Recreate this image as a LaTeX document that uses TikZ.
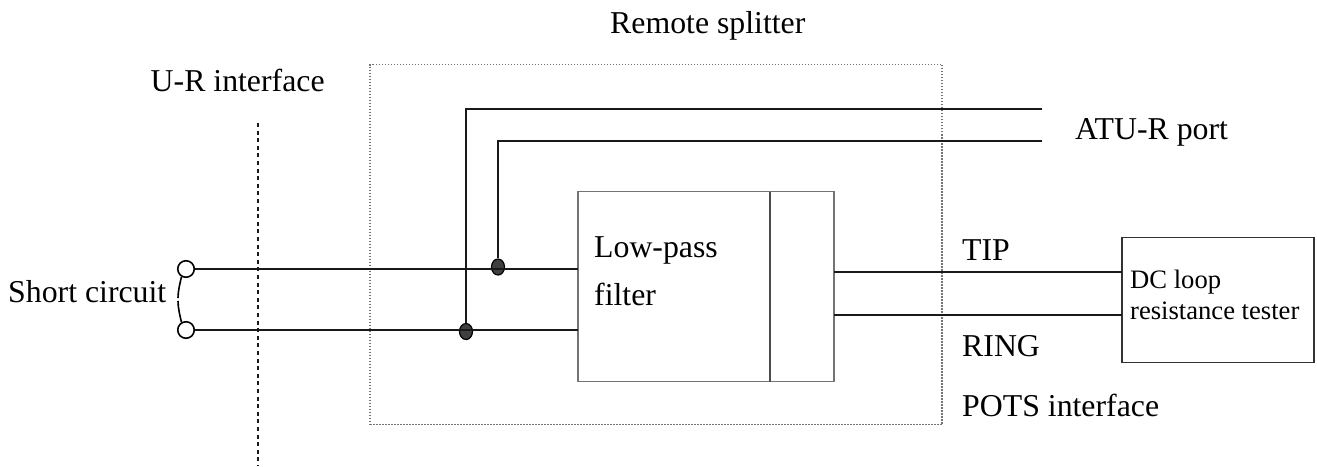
\documentclass[tikz,border=0pt]{standalone}
\usepackage{fontspec}
\usetikzlibrary{shapes.geometric}
\setmainfont{Liberation Serif}
\begin{document}
\begin{tikzpicture}[x=1pt,y=-1pt,
  wire/.style={draw=black!90,line width=1.9pt},
  thin box/.style={draw=black!55,line width=1.6pt},
  term/.style={circle,draw=black,line width=1.6pt,fill=white,minimum size=16.5pt,inner sep=0pt},
  junction/.style={ellipse,draw=black,line width=1.2pt,fill=black!75,minimum width=13pt,minimum height=16pt,inner sep=0pt},
  lab/.style={font=\fontsize{31.8}{36}\selectfont,inner sep=0pt,anchor=base west},
  smalllab/.style={font=\fontsize{26.6}{31}\selectfont,inner sep=0pt,anchor=base west}]
\useasboundingbox (0,0) rectangle (1317,466);
\fill[white] (0,0) rectangle (1317,466);
\node[lab] (title) at (610,33) {Remote splitter};
\node[lab] (ur) at (150.5,91) {U-R interface};
\node[lab] (atu) at (1075,139) {ATU-R port};
\node[lab] (sc) at (8,302) {Short circuit};
\node[lab] (lpf1) at (594,257) {Low-pass};
\node[lab] (lpf2) at (594,305) {filter};
\node[lab] (tip) at (962,260) {TIP};
\node[lab] (ring) at (962,356) {RING};
\node[lab] (pots) at (962,416) {POTS interface};
\coordinate (ua) at (258,123);
\coordinate (ub) at (258,466);
\draw[black!90,line width=1.6pt,dash pattern=on 4pt off 3.6pt] (ua) -- (ub);
\node[draw=black!55,line width=1.2pt,dash pattern=on 1.5pt off 1.5pt,minimum width=572pt,minimum height=360pt,inner sep=0pt] (split) at (656,244.5) {};
\node[thin box,minimum width=256pt,minimum height=190pt,inner sep=0pt] (filt) at (706,286.5) {};
\coordinate (fdivT) at (770,191.5);
\coordinate (fdivB) at (770,381.5);
\draw[thin box,draw=black!70] (fdivT) -- (fdivB);
\node[thin box,draw=black!80,line width=1.4pt,minimum width=192pt,minimum height=125pt,inner sep=0pt] (dc) at (1218,300) {};
\node[smalllab] (dc1) at (1130,288) {DC loop};
\node[smalllab] (dc2) at (1130,319.5) {resistance tester};
\node[term] (t1) at (186,269) {};
\node[term] (t2) at (186,330) {};
\node[junction] (j1) at (498,267) {};
\node[junction] (j2) at (466,331.5) {};
\coordinate (f1) at (578,269);
\coordinate (f2) at (578,330);
\coordinate (a1) at (1042,109);
\coordinate (a2) at (1042,141);
\coordinate (c1) at (466,109);
\coordinate (c2) at (498,141);
\coordinate (o1) at (834,272);
\coordinate (o2) at (834,315);
\coordinate (d1) at (1122,272);
\coordinate (d2) at (1122,315);
\draw[wire] (t1) -- (f1);
\draw[wire] (t2) -- (f2);
\draw[wire] (j2) -- (c1) -- (a1);
\draw[wire] (j1) -- (c2) -- (a2);
\draw[wire] (o1) -- (d1);
\draw[wire] (o2) -- (d2);
\coordinate (g1) at (178,298);
\coordinate (g2) at (178,301);
\draw[line width=1.6pt] (t1.240) .. controls (180,283) and (178,291) .. (g1);
\draw[line width=1.6pt] (t2.120) .. controls (180,316) and (178,308) .. (g2);
\end{tikzpicture}
\end{document}
